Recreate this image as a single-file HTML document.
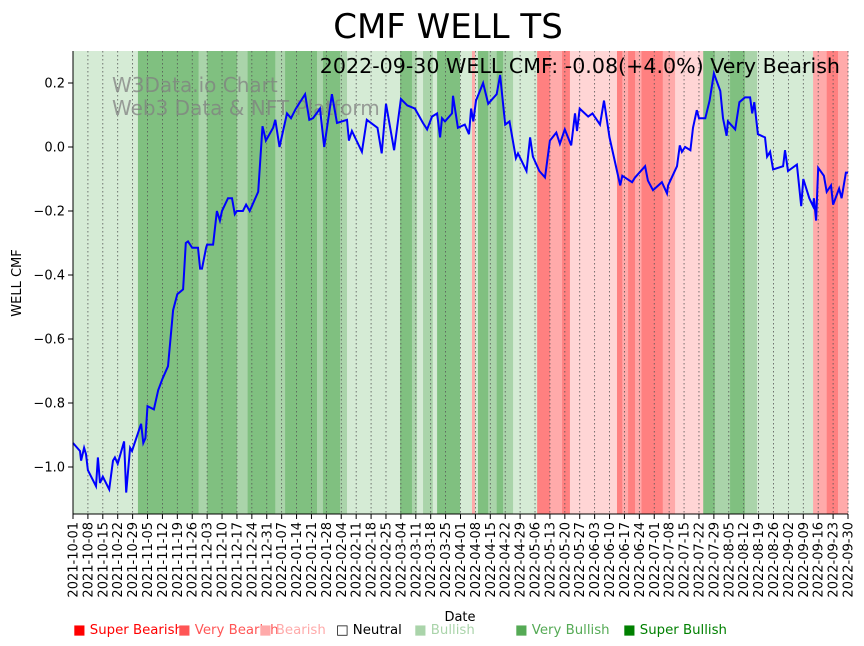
<!DOCTYPE html>
<html><head><meta charset="utf-8"><style>
body{margin:0;background:#fff;}
svg{display:block;font-family:"DejaVu Sans","Liberation Sans",sans-serif;}
</style></head><body>
<svg id="chart" width="864" height="646" viewBox="0 0 864 646">
<text x="448" y="38" font-size="34" text-anchor="middle">CMF WELL TS</text>
<g id="bands"></g>
<g id="grid"></g>
<text x="112" y="92" font-size="20" fill="#808080" fill-opacity="0.75">W3Data.io Chart</text>
<text x="112" y="115" font-size="20" fill="#808080" fill-opacity="0.75">Web3 Data &amp; NFT Platform</text>
<path id="line" fill="none" stroke="#0000ff" stroke-width="2"/>
<text x="840" y="73" font-size="20.6" text-anchor="end">2022-09-30 WELL CMF: -0.08(+4.0%) Very Bearish</text>
<line x1="73" y1="51" x2="73" y2="514" stroke="#000"/>
<line x1="73" y1="514" x2="848" y2="514" stroke="#000"/>
<g id="yticks"></g>
<g id="xticks"></g>
<text transform="translate(21,283) rotate(-90)" font-size="13" text-anchor="middle">WELL CMF</text>
<text x="460" y="621" font-size="13" text-anchor="middle">Date</text>
<g font-size="13.3">
<text x="73" y="634" fill="#ff0000">■ Super Bearish</text>
<text x="178" y="634" fill="#ff5555">■ Very Bearish</text>
<text x="259" y="634" fill="#ffaaaa">■ Bearish</text>
<text x="336" y="634" fill="#000">□ Neutral</text>
<text x="414" y="634" fill="#aad4aa">■ Bullish</text>
<text x="515" y="634" fill="#55aa55">■ Very Bullish</text>
<text x="623" y="634" fill="#008000">■ Super Bullish</text>
</g>
</svg>
<script>
const days=[0,3.3,3.8,5.2,6.1,7,10.8,11.7,12.7,14,17,18.8,19.7,21,24,25,26.8,27.7,32,33,34,35,38,40,42,44.6,47,49,51.7,53,54,56,58.7,59.7,60.6,62.5,63,65.8,67.6,69,70,72.8,74.7,76,77,79.8,81.3,83,87,89,90.6,94,95,97,100.5,102.4,104.7,109,111,112.7,116,118,121.6,124,128.7,129.6,131,135.7,138,143,145,147,150.8,154,157,160.6,164.4,166.3,168.6,171,172.4,173.3,174.7,178,178.5,180.8,184,186,187,188,189.3,192.6,195,199,200.6,203,205,208,209,213,214.7,216,219,221.7,224,227,228.7,231,234,235.8,236.7,238,242,244,247.5,249.4,252,257,258,262.6,264,268.7,270,272.4,276.6,279,279.5,283.7,285,286,287.5,290,291.2,293,294,297,299,301,304,305.3,307,307.6,311,313,315.6,318,319,320,321.7,325,326,327.4,328.8,333.5,334.4,335.8,340,342,343,345.8,347.6,348,349,350,352.7,354,356,357,359.8,361,363,364];
const cmf=[-0.925,-0.95,-0.98,-0.94,-0.96,-1.01,-1.06,-0.97,-1.05,-1.03,-1.07,-0.98,-0.97,-0.99,-0.92,-1.08,-0.94,-0.95,-0.865,-0.925,-0.91,-0.81,-0.82,-0.76,-0.725,-0.685,-0.51,-0.46,-0.445,-0.30,-0.295,-0.315,-0.315,-0.38,-0.38,-0.315,-0.305,-0.305,-0.20,-0.23,-0.20,-0.16,-0.16,-0.21,-0.20,-0.20,-0.18,-0.20,-0.14,0.065,0.02,0.06,0.085,0.0,0.105,0.09,0.12,0.165,0.085,0.09,0.12,0.0,0.165,0.075,0.085,0.02,0.05,-0.015,0.085,0.06,-0.02,0.135,-0.01,0.15,0.13,0.12,0.075,0.055,0.095,0.105,0.03,0.09,0.08,0.105,0.16,0.06,0.07,0.04,0.12,0.08,0.145,0.20,0.135,0.165,0.225,0.07,0.08,-0.035,-0.02,-0.075,0.03,-0.03,-0.075,-0.095,0.02,0.045,0.01,0.055,0.005,0.105,0.05,0.12,0.095,0.105,0.07,0.145,0.03,-0.12,-0.09,-0.11,-0.095,-0.06,-0.105,-0.135,-0.11,-0.145,-0.12,-0.06,0.005,-0.015,0.0,-0.01,0.06,0.115,0.09,0.09,0.145,0.23,0.175,0.09,0.035,0.08,0.055,0.14,0.155,0.155,0.105,0.14,0.04,0.03,-0.03,-0.015,-0.07,-0.06,-0.01,-0.075,-0.055,-0.185,-0.10,-0.16,-0.185,-0.16,-0.23,-0.065,-0.09,-0.14,-0.12,-0.18,-0.13,-0.16,-0.08,-0.08];
const bandStart=[0,30.5,59,63,77,82,95,99.6,114.6,117.4,125.4,128.7,153.6,159.2,161.6,164.4,169,171,181.8,187.4,188.8,190.2,195,199,202,206.7,218,224,229.7,233.4,255.5,258,260.7,264,267,277,282.8,296,301.5,308.6,315.6,321.3,347.6,354,359.3];
const bandEnd=[30.5,59,63,77,82,95,99.6,114.6,117.4,125.4,128.7,153.6,159.2,161.6,164.4,169,171,181.8,187.4,188.8,190.2,195,199,202,206.7,218,224,229.7,233.4,255.5,258,260.7,264,267,277,282.8,296,301.5,308.6,315.6,321.3,347.6,354,359.3,364];
const bandCat=["g1","g3","g2","g3","g2","g3","g2","g3","g2","g3","g2","g1","g3","g2","g1","g2","g1","g3","g1","r2","g1","g3","g2","g3","g2","g1","r3","r2","r3","r1","r3","r2","r3","r2","r3","r2","r1","g3","g2","g3","g2","g1","r2","r3","r2"];
const yTicks=[0.2,0.0,-0.2,-0.4,-0.6,-0.8,-1.0];
const yTickLabels=["0.2","0.0","−0.2","−0.4","−0.6","−0.8","−1.0"];
const catColor={g1:"#d5ebd5",g2:"#aad4aa",g3:"#80c080",r1:"#ffd5d5",r2:"#ffaaaa",r3:"#ff8080"};
const NS="http://www.w3.org/2000/svg";
const X0=73,X1=848,Y0=51,Y1=514,DMAX=364;
const xs=d=>X0+d*(X1-X0)/DMAX;
const ys=v=>147-v*320;
function mk(t,a,p){const e=document.createElementNS(NS,t);for(const k in a)e.setAttribute(k,a[k]);p.appendChild(e);return e;}
const bg=document.getElementById('bands');
for(let i=0;i<bandStart.length;i++){
 const x=xs(bandStart[i]);
 const r=mk('rect',{x:x,y:Y0,width:xs(bandEnd[i])-x+0.3,height:Y1-Y0,fill:catColor[bandCat[i]]},bg);
 
 
}
const gg=document.getElementById('grid'),xt=document.getElementById('xticks');
const start=new Date(Date.UTC(2021,9,1));
for(let d=0;d<=DMAX;d+=7){
 const x=xs(d);
 const l=mk('line',{x1:x,y1:Y0,x2:x,y2:Y1,stroke:"#555","stroke-width":0.8,"stroke-dasharray":"1.5,2.5"},gg);
 
 
 const t=mk('line',{x1:x,y1:Y1,x2:x,y2:Y1+5,stroke:"#000"},xt);
 
 
 const dt=new Date(start.getTime()+d*86400000);
 const s=dt.toISOString().slice(0,10);
 const tx=mk('text',{transform:`translate(${x+4.5},${Y1+8}) rotate(-90)`,"font-size":13,"text-anchor":"end"},xt);
 tx.textContent=s;
 
 
}
const yt=document.getElementById('yticks');
yTicks.forEach((v,i)=>{
 const y=ys(v);
 const t=mk('line',{x1:X0-5,y1:y,x2:X0,y2:y,stroke:"#000"},yt);
 
 
 const tx=mk('text',{x:X0-8,y:y+4.5,"font-size":13,"text-anchor":"end"},yt);
 tx.textContent=yTickLabels[i];
 
 
});
document.getElementById('line').setAttribute('d',days.map((d,i)=>(i?'L':'M')+xs(d).toFixed(1)+','+ys(cmf[i]).toFixed(1)).join(''));
</script>
</body></html>
